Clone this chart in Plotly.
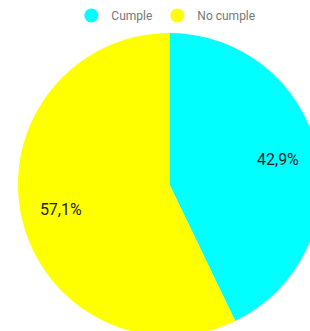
import plotly.graph_objects as go

categories = ["Cumple", "No cumple"]
values = [3, 4]
colors = ["#00FFFF", "#FFFF00"]

fig = go.Figure()
# Filled pie (no text)
fig.add_trace(go.Pie(
    labels=categories,
    values=values,
    marker=dict(colors=colors, line=dict(width=0)),
    sort=False,
    direction="clockwise",
    rotation=0,
    textinfo="none",
    hoverinfo="label+percent",
    showlegend=False,
    domain=dict(x=[0, 1], y=[0, 1]),
))
# Transparent ring carrying the percentage labels at mid-radius
fig.add_trace(go.Pie(
    labels=categories,
    values=values,
    hole=0.47,
    marker=dict(colors=["rgba(0,0,0,0)"] * len(values), line=dict(width=0)),
    sort=False,
    direction="clockwise",
    rotation=0,
    texttemplate="%{percent:.1%}",
    textposition="inside",
    insidetextorientation="horizontal",
    textfont=dict(family="Roboto", size=16, color="#222222"),
    hoverinfo="skip",
    showlegend=False,
    domain=dict(x=[0, 1], y=[0, 1]),
))
for name, col in zip(categories, colors):
    fig.add_trace(go.Scatter(
        x=[None], y=[None], mode="markers", name=name,
        marker=dict(color=col, size=14, symbol="circle"),
        showlegend=True, hoverinfo="skip",
    ))

fig.update_layout(
    width=330, height=345, autosize=False,
    margin=dict(l=18, r=9, t=33, b=9, pad=0, autoexpand=False),
    paper_bgcolor="white", plot_bgcolor="white",
    separators=",.",
    xaxis=dict(visible=False), yaxis=dict(visible=False),
    legend=dict(
        orientation="h", x=0.488, xanchor="center",
        y=1.010, yanchor="bottom",
        font=dict(family="Roboto", size=12, color="#777777"),
        itemclick=False, itemdoubleclick=False,
    ),
)

fig.write_html(
    "out.html",
    config={"displayModeBar": False},
    post_script=(
        "document.body.style.margin='0';"
        "document.body.style.overflow='hidden';"
        "document.documentElement.style.overflow='hidden';"
    ),
)
